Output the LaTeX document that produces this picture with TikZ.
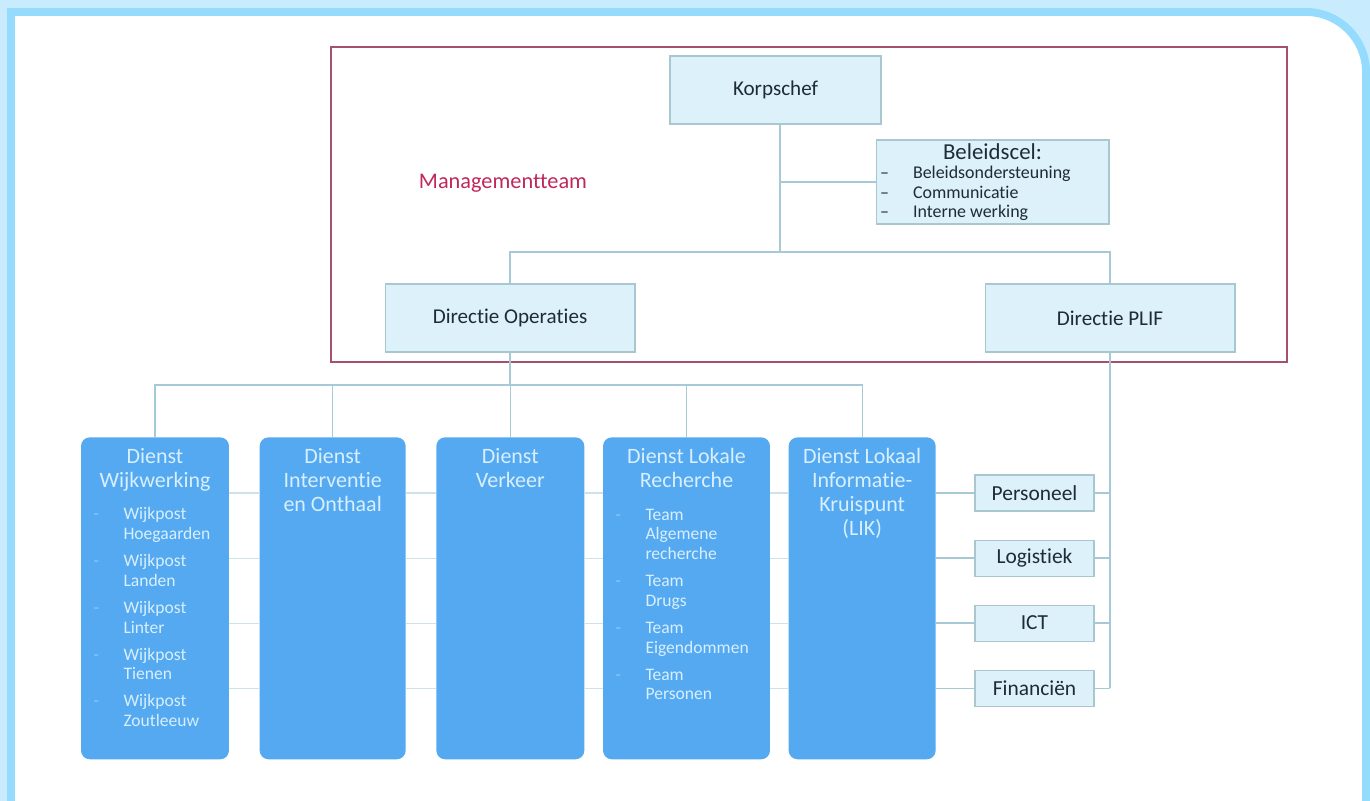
\documentclass[tikz,border=0pt]{standalone}
\usepackage{fontspec}
\setmainfont{Carlito}[Ligatures=NoCommon]
\usetikzlibrary{positioning}
\definecolor{achtergrond}{HTML}{C8ECFD}
\definecolor{kader}{HTML}{95DBFE}
\definecolor{licht}{HTML}{DDF1FA}
\definecolor{rand}{HTML}{A9C7CF}
\definecolor{lijnkleur}{HTML}{A6CAD5}
\definecolor{mtrand}{HTML}{A5506F}
\definecolor{mttekst}{HTML}{C0285A}
\definecolor{dienstblauw}{HTML}{55A9F1}
\definecolor{diensttekst}{HTML}{D7EFFF}
\definecolor{donker}{HTML}{1E2B38}
\tikzstyle{leiding}=[%
      rectangle, draw=rand, fill=licht, text=donker, line width=0.6pt,
      minimum height=1.36cm, inner sep=2pt, font=\fontsize{12}{14}\selectfont
]
\tikzstyle{staf}=[%
      rectangle, draw=rand, fill=licht, text=donker, line width=0.6pt,
      minimum width=2.38cm, minimum height=0.72cm, inner sep=1pt, font=\fontsize{12.2}{14}\selectfont
]
\tikzstyle{dienst}=[%
      rectangle, rounded corners=5pt, fill=dienstblauw, text=diensttekst,
      minimum height=6.44cm, inner sep=0pt, anchor=north
]
\tikzstyle{lijn}=[draw=lijnkleur, line width=0.7pt]
\tikzstyle{dunlijn}=[draw=lijnkleur!55, line width=0.6pt]
\newcommand{\dienstvak}[3]{\parbox[t][6cm][t]{#1}{\centering\fontsize{12.5}{13.6}\selectfont #2\par\vspace{3.2pt}%
  \fontsize{10}{11.3}\selectfont\raggedright\leftskip=0.82cm #3}}
\newcommand{\onderdeel}[1]{\par\vspace{4pt}\noindent\llap{\makebox[0.6cm][l]{\color{diensttekst!45!dienstblauw}-}}#1}
\newcommand{\streepje}{\makebox[0.66cm][l]{--}}

\begin{document}
\begin{tikzpicture}[x=0.02cm, y=-0.02cm]
    \useasboundingbox (0,0) rectangle (1370,801);
    % kader
    \fill[achtergrond] (0,0) rectangle (1370,801);
    \draw[kader, line width=4.5pt, fill=white] (11,806) -- (11,12) -- (1306,12)
          .. controls (1339,12) and (1366,39) .. (1366,72) -- (1366,806);

    % managementteam
    \draw[mtrand, line width=0.9pt] (331,47) rectangle (1287,362);
    \node[text=mttekst, font=\fontsize{12.7}{14}\selectfont] (mt) at (503,183) {Managementteam};

    \node[leiding, minimum width=4.22cm] (korps) at (775.5,90) {Korpschef};
    \node[leiding, minimum width=4.66cm, minimum height=1.68cm] (beleid) at (992.5,182)
         {\parbox{4.5cm}{\centering{\fontsize{13}{15}\selectfont Beleidscel:}\par
          \fontsize{10.2}{11}\selectfont\raggedright
          \streepje Beleidsondersteuning\\ \streepje Communicatie\\ \streepje Interne werking}};
    \node[leiding, minimum width=5cm] (dirops) at (510,318) {Directie Operaties};
    \node[leiding, minimum width=5cm] (plif) at (1110,318) {Directie PLIF};

    \coordinate (knoop) at (780,252);
    \coordinate (opsknoop) at (510,385);

    % diensten
    \node[dienst, minimum width=2.96cm] (wijk) at (155,437)
         {\dienstvak{2.9cm}{Dienst\\Wijkwerking}{%
          \onderdeel{Wijkpost\\Hoegaarden}\onderdeel{Wijkpost\\Landen}\onderdeel{Wijkpost\\Linter}%
          \onderdeel{Wijkpost\\Tienen}\onderdeel{Wijkpost\\Zoutleeuw}}};
    \node[dienst, minimum width=2.92cm, right=0.6cm of wijk.north east, anchor=north west] (interv)
         {\dienstvak{2.86cm}{Dienst\\Interventie\\en Onthaal}{}};
    \node[dienst, minimum width=2.96cm, right=0.6cm of interv.north east, anchor=north west] (verkeer)
         {\dienstvak{2.9cm}{Dienst\\Verkeer}{}};
    \node[dienst, minimum width=3.34cm, right=0.36cm of verkeer.north east, anchor=north west] (recherche)
         {\dienstvak{3.28cm}{Dienst Lokale\\Recherche}{%
          \onderdeel{Team\\Algemene\\recherche}\onderdeel{Team\\Drugs}%
          \onderdeel{Team\\Eigendommen}\onderdeel{Team\\Personen}}};
    \node[dienst, minimum width=2.94cm, right=0.36cm of recherche.north east, anchor=north west] (lik)
         {\dienstvak{2.88cm}{Dienst Lokaal\\Informatie-\\Kruispunt\\(LIK)}{}};

    % PLIF
    \node[staf] (pers) at (1034.5,493) {Personeel};
    \node[staf, below=0.56cm of pers] (logi) {Logistiek};
    \node[staf, below=0.56cm of logi] (ict) {ICT};
    \node[staf, below=0.56cm of ict] (fin) {Financiën};

    % verbindingen
    \draw[lijn] (korps.south -| knoop) -- (knoop);
    \draw[lijn] (beleid.west -| knoop) -- (beleid.west);
    \draw[lijn] (dirops.north) -- (dirops.north |- knoop) -- (plif.north |- knoop) -- (plif.north);
    \draw[lijn] (dirops.south) -- (opsknoop);
    \draw[lijn] (wijk.north) -- (wijk.north |- opsknoop) -- (lik.north |- opsknoop) -- (lik.north);
    \foreach \d in {interv, verkeer, recherche}
        \draw[lijn] (\d.north) -- (\d.north |- opsknoop);
    \draw[lijn] (plif.south) -- (plif.south |- fin);
    \foreach \s in {pers, logi, ict, fin} {
        \draw[lijn] (\s.east) -- (\s.east -| plif.south);
        \foreach \a/\b in {wijk/interv, interv/verkeer, verkeer/recherche, recherche/lik}
            \draw[dunlijn] (\a.east |- \s) -- (\b.west |- \s);
        \draw[lijn] (lik.east |- \s) -- (\s.west);
    }
\end{tikzpicture}
\end{document}
